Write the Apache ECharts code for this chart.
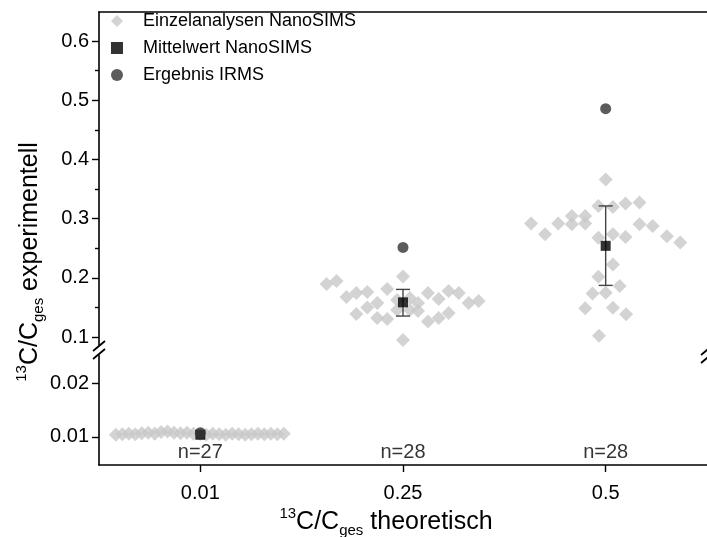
<!DOCTYPE html>
<html>
<head>
<meta charset="utf-8">
<script src="https://cdn.jsdelivr.net/npm/echarts@6/dist/echarts.min.js"></script>
<style>html,body{margin:0;padding:0;background:#fff}#c{width:707px;height:537px}</style>
</head>
<body>
<div id="c"></div>
<script>
// ---- data ----
const categories = ['0.01', '0.25', '0.5'];
const nLabels = ['n=27', 'n=28', 'n=28'];
// individual NanoSIMS analyses: horizontal swarm offset (in category widths) and value
const offs001 = [-0.417,-0.385,-0.353,-0.321,-0.289,-0.257,-0.225,-0.194,-0.162,-0.130,-0.098,-0.066,-0.034,0.000,0.029,0.061,0.093,0.125,0.157,0.189,0.221,0.252,0.284,0.316,0.348,0.380,0.412];
const vals001 = [0.0104,0.0105,0.0106,0.0105,0.0107,0.0108,0.0106,0.0109,0.0110,0.0108,0.0107,0.0108,0.0106,0.0105,0.0104,0.0106,0.0105,0.0104,0.0106,0.0105,0.0104,0.0105,0.0106,0.0105,0.0106,0.0105,0.0106];
const offs025 = [-0.377,-0.328,-0.279,-0.230,-0.230,-0.176,-0.176,-0.127,-0.127,-0.078,-0.078,0.000,0.000,-0.029,-0.029,0.034,0.034,0.074,0.074,0.123,0.123,0.176,0.176,0.225,0.225,0.275,0.324,0.373];
const vals025 = [0.1894,0.1944,0.1675,0.1742,0.1388,0.1759,0.1497,0.1573,0.1320,0.1809,0.1304,0.2020,0.0949,0.1624,0.1455,0.1658,0.1455,0.1573,0.1438,0.1742,0.1261,0.1641,0.1320,0.1776,0.1405,0.1742,0.1573,0.1607];
const offs05 = [0.000,-0.036,0.036,0.098,0.167,-0.368,-0.299,-0.234,-0.167,-0.167,-0.101,-0.101,-0.036,0.036,0.098,0.167,0.232,0.302,0.368,0.036,-0.036,0.069,-0.065,0.000,-0.101,0.036,0.101,-0.033];
const vals05 = [0.3659,0.3214,0.3197,0.3255,0.3271,0.2917,0.2737,0.2917,0.3046,0.2906,0.3046,0.2917,0.2675,0.2737,0.2691,0.2906,0.2877,0.2703,0.2597,0.2226,0.2017,0.1860,0.1737,0.1747,0.1484,0.1494,0.1383,0.1022];
const meanVals = [0.0104, 0.1585, 0.2540];
const errLow  = [null, 0.1354, 0.1872];
const errHigh = [null, 0.1804, 0.3214];
const irmsVals = [0.0108, 0.2513, 0.4857];
const nLabelY = 0.0072;
const yTicksUpper = [0.1, 0.2, 0.3, 0.4, 0.5, 0.6];
const yMinorUpper = [0.15, 0.25, 0.35, 0.45, 0.55];
const yTicksLower = [0.01, 0.02];
const upperRange = [0.0865, 0.649];
const lowerRange = [0.0048, 0.0252];

// ---- build ----
const FONT = 'Liberation Sans';
const pts = (ci, offs, vals) => offs.map((o, i) => [ci + o, vals[i]]);
const S_IND = 'Einzelanalysen NanoSIMS', S_MEAN = 'Mittelwert NanoSIMS', S_IRMS = 'Ergebnis IRMS';
const diamond = {symbol: 'diamond', symbolSize: 14, itemStyle: {color: '#c8c8c8'}};
const meanSym = {symbol: 'rect', symbolSize: 10, itemStyle: {color: '#000'}};
const irmsSym = {symbol: 'circle', symbolSize: 11, itemStyle: {color: '#333'}};

const LEFT = 99, WIDTH = 612;
const chart = echarts.init(document.getElementById('c'), null, {renderer: 'canvas'});
const axisLine = {show: true, onZero: false, lineStyle: {color: '#000', width: 1.6}};
const labelStyle = {fontFamily: FONT, fontSize: 20, color: '#000'};

const upperMeanIdx = [1, 2];
const option = {
  animation: false,
  backgroundColor: '#fff',
  grid: [
    {left: LEFT, width: WIDTH, top: 12, height: 333},
    {left: LEFT, width: WIDTH, top: 355, height: 110}
  ],
  xAxis: [
    {gridIndex: 0, type: 'value', min: -0.5, max: 2.5, position: 'top',
     axisLine: axisLine, axisTick: {show: false}, axisLabel: {show: false}, splitLine: {show: false}},
    {gridIndex: 1, type: 'value', min: -0.5, max: 2.5, position: 'bottom',
     axisLine: axisLine,
     axisTick: {show: true, length: 7, customValues: [0, 1, 2], lineStyle: {color: '#000', width: 1.4}},
     axisLabel: Object.assign({margin: 18, customValues: [0, 1, 2], formatter: v => categories[Math.round(v)]}, labelStyle),
     splitLine: {show: false}}
  ],
  yAxis: [
    {gridIndex: 0, type: 'value', min: upperRange[0], max: upperRange[1], position: 'left',
     axisLine: axisLine,
     axisTick: {show: true, length: 7, customValues: yTicksUpper, lineStyle: {color: '#000', width: 1.4}},
     axisLabel: Object.assign({margin: 10, customValues: yTicksUpper, formatter: v => String(+v.toFixed(2))}, labelStyle),
     splitLine: {show: false}},
    {gridIndex: 1, type: 'value', min: lowerRange[0], max: lowerRange[1], position: 'left',
     axisLine: axisLine,
     axisTick: {show: true, length: 7, customValues: yTicksLower, lineStyle: {color: '#000', width: 1.4}},
     axisLabel: Object.assign({margin: 10, customValues: yTicksLower, formatter: v => String(+v.toFixed(3))}, labelStyle),
     splitLine: {show: false}},
    {gridIndex: 0, type: 'value', min: upperRange[0], max: upperRange[1], position: 'left',
     axisLine: {show: false, onZero: false},
     axisTick: {show: true, length: 4, customValues: yMinorUpper, lineStyle: {color: '#000', width: 1.4}},
     axisLabel: {show: false}, splitLine: {show: false}}
  ],
  legend: {
    orient: 'vertical', left: 106, top: 7, itemGap: 9, itemWidth: 12, itemHeight: 12,
    textStyle: {fontFamily: FONT, fontSize: 18, color: '#000', padding: [0, 0, 0, 15]},
    data: [
      {name: S_IND, icon: 'diamond', itemStyle: {color: '#c8c8c8'}},
      {name: S_MEAN, icon: 'rect', itemStyle: {color: '#000'}},
      {name: S_IRMS, icon: 'circle', itemStyle: {color: '#333'}}
    ]
  },
  series: [
    Object.assign({name: S_IND, type: 'scatter', xAxisIndex: 1, yAxisIndex: 1, data: pts(0, offs001, vals001)}, diamond),
    Object.assign({name: S_IND, type: 'scatter', xAxisIndex: 0, yAxisIndex: 0,
      data: pts(1, offs025, vals025).concat(pts(2, offs05, vals05))}, diamond),
    {type: 'custom', xAxisIndex: 0, yAxisIndex: 0, z: 3,
     data: upperMeanIdx.map(ci => [ci, errLow[ci], errHigh[ci]]),
     renderItem: (params, api) => {
       const lo = api.coord([api.value(0), api.value(1)]);
       const hi = api.coord([api.value(0), api.value(2)]);
       const w = 7;
       const st = {stroke: '#444', lineWidth: 1.4};
       return {type: 'group', children: [
         {type: 'line', shape: {x1: lo[0], y1: lo[1], x2: hi[0], y2: hi[1]}, style: st},
         {type: 'line', shape: {x1: lo[0] - w, y1: lo[1], x2: lo[0] + w, y2: lo[1]}, style: st},
         {type: 'line', shape: {x1: hi[0] - w, y1: hi[1], x2: hi[0] + w, y2: hi[1]}, style: st}
       ]};
     }},
    Object.assign({name: S_MEAN, type: 'scatter', xAxisIndex: 1, yAxisIndex: 1, z: 4, data: [[0, meanVals[0]]]}, meanSym),
    Object.assign({name: S_MEAN, type: 'scatter', xAxisIndex: 0, yAxisIndex: 0, z: 4,
      data: upperMeanIdx.map(ci => [ci, meanVals[ci]])}, meanSym),
    Object.assign({name: S_IRMS, type: 'scatter', xAxisIndex: 1, yAxisIndex: 1, z: 5, data: [[0, irmsVals[0]]]}, irmsSym),
    Object.assign({name: S_IRMS, type: 'scatter', xAxisIndex: 0, yAxisIndex: 0, z: 5,
      data: upperMeanIdx.map(ci => [ci, irmsVals[ci]])}, irmsSym),
    {type: 'scatter', xAxisIndex: 1, yAxisIndex: 1, symbolSize: 0, silent: true, z: 6,
     data: categories.map((c, i) => [i, nLabelY]),
     label: {show: true, position: 'inside', formatter: p => nLabels[p.dataIndex],
       fontFamily: FONT, fontSize: 20, color: '#000'}}
  ]
};
chart.setOption(option);

// axis break marks and axis titles
const yTop = chart.convertToPixel({yAxisIndex: 0}, upperRange[0]);
const yBot = chart.convertToPixel({yAxisIndex: 1}, lowerRange[1]);
const xL = chart.convertToPixel({xAxisIndex: 1}, -0.5);
const xR = chart.convertToPixel({xAxisIndex: 1}, 2.5);
const brk = (x, y) => ({type: 'line', shape: {x1: x - 6, y1: y + 5, x2: x + 6, y2: y - 5}, style: {stroke: '#000', lineWidth: 1.8}});
const rich = {
  m: {fontFamily: FONT, fontSize: 25, color: '#000'},
  sup: {fontFamily: FONT, fontSize: 15, color: '#000', verticalAlign: 'top', padding: [0, 0, 12, 0]},
  sub: {fontFamily: FONT, fontSize: 15, color: '#000', padding: [17, 0, 0, 0]}
};
chart.setOption({graphic: [
  brk(xL, yTop + 1), brk(xL, yBot - 1),
  brk(xR, yTop + 5), brk(xR, yBot + 3),
  {type: 'text', x: 30, y: 262, rotation: Math.PI / 2,
   style: {text: '{sup|13}{m|C/C}{sub|ges}{m| experimentell}', rich: rich, align: 'center', verticalAlign: 'middle'}},
  {type: 'text', x: 386, y: 522,
   style: {text: '{sup|13}{m|C/C}{sub|ges}{m| theoretisch}', rich: rich, align: 'center', verticalAlign: 'middle'}}
]});
</script>
</body>
</html>
